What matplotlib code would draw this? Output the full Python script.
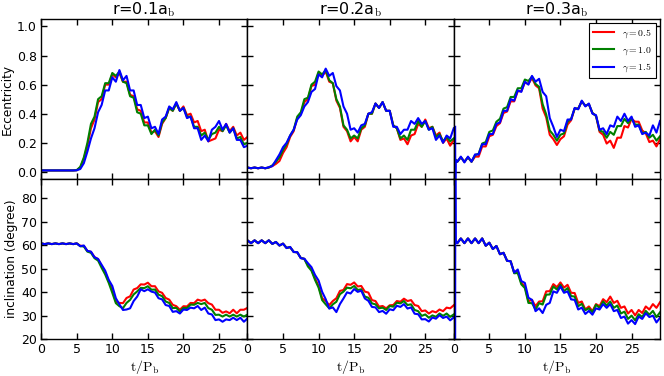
import numpy as np
import matplotlib
matplotlib.use("Agg")
import matplotlib.pyplot as plt

plt.rcParams["mathtext.fontset"] = "cm"
plt.rcParams["xtick.direction"] = "in"
plt.rcParams["ytick.direction"] = "in"
plt.rcParams["xtick.top"] = True
plt.rcParams["ytick.right"] = True

# time grid, t/P_b, every half binary period
t = np.arange(59) * 0.5
# panel 3 starts with a short spike right after t=0
t3 = np.concatenate([[0.2, 0.22, 0.26], t[1:]])

radii = ["0.1", "0.2", "0.3"]
gammas = ["0.5", "1.0", "1.5"]
colors = ["r", "g", "b"]

# eccentricity, r=0.1 a_b
e1_g05 = [0.01] * 10 + [0.012, 0.03, 0.09, 0.18, 0.30, 0.36, 0.48, 0.50, 0.60, 0.60,
                        0.67, 0.65, 0.68, 0.62, 0.62, 0.53, 0.52, 0.43, 0.42, 0.34,
                        0.34, 0.27, 0.28, 0.24, 0.33, 0.37, 0.44, 0.42, 0.47, 0.42,
                        0.45, 0.39, 0.40, 0.34, 0.35, 0.28, 0.29, 0.21, 0.22, 0.23,
                        0.29, 0.28, 0.33, 0.28, 0.31, 0.25, 0.27, 0.22, 0.24]
e1_g10 = [0.01] * 10 + [0.012, 0.035, 0.10, 0.20, 0.33, 0.38, 0.50, 0.52, 0.61, 0.61,
                        0.68, 0.66, 0.69, 0.62, 0.61, 0.52, 0.51, 0.41, 0.40, 0.32,
                        0.32, 0.26, 0.29, 0.25, 0.34, 0.37, 0.44, 0.42, 0.47, 0.42,
                        0.44, 0.38, 0.38, 0.31, 0.31, 0.25, 0.27, 0.22, 0.26, 0.27,
                        0.31, 0.28, 0.32, 0.27, 0.30, 0.23, 0.24, 0.19, 0.20]
e1_g15 = [0.01] * 10 + [0.011, 0.02, 0.06, 0.14, 0.23, 0.30, 0.41, 0.46, 0.56, 0.56,
                        0.65, 0.62, 0.70, 0.63, 0.66, 0.56, 0.56, 0.46, 0.46, 0.37,
                        0.38, 0.30, 0.31, 0.26, 0.36, 0.38, 0.45, 0.43, 0.48, 0.42,
                        0.44, 0.37, 0.38, 0.30, 0.30, 0.22, 0.25, 0.21, 0.29, 0.31,
                        0.35, 0.29, 0.33, 0.27, 0.30, 0.22, 0.22, 0.17, 0.18]

# eccentricity, r=0.2 a_b
e2_g05 = [0.03, 0.025, 0.03, 0.025, 0.03, 0.025, 0.03, 0.04, 0.055, 0.075,
          0.13, 0.17, 0.24, 0.28, 0.37, 0.40, 0.48, 0.50, 0.59, 0.60,
          0.68, 0.66, 0.69, 0.62, 0.61, 0.49, 0.44, 0.31, 0.28, 0.21,
          0.24, 0.21, 0.29, 0.31, 0.40, 0.40, 0.47, 0.44, 0.48, 0.42,
          0.42, 0.32, 0.30, 0.22, 0.23, 0.19, 0.25, 0.26, 0.33, 0.31,
          0.36, 0.30, 0.31, 0.25, 0.27, 0.20, 0.23, 0.18, 0.22]
e2_g10 = [0.03, 0.025, 0.03, 0.025, 0.03, 0.025, 0.03, 0.045, 0.07, 0.10,
          0.15, 0.19, 0.25, 0.29, 0.38, 0.41, 0.50, 0.51, 0.60, 0.62,
          0.69, 0.67, 0.70, 0.63, 0.61, 0.50, 0.45, 0.32, 0.29, 0.23,
          0.25, 0.23, 0.30, 0.32, 0.40, 0.40, 0.47, 0.44, 0.48, 0.42,
          0.42, 0.32, 0.30, 0.23, 0.25, 0.22, 0.29, 0.29, 0.35, 0.31,
          0.35, 0.29, 0.31, 0.24, 0.26, 0.21, 0.24, 0.21, 0.23]
e2_g15 = [0.03, 0.025, 0.03, 0.025, 0.03, 0.025, 0.032, 0.04, 0.08, 0.12,
          0.17, 0.20, 0.25, 0.29, 0.36, 0.39, 0.45, 0.48, 0.55, 0.57,
          0.67, 0.65, 0.71, 0.66, 0.68, 0.59, 0.56, 0.45, 0.40, 0.29,
          0.30, 0.27, 0.32, 0.33, 0.40, 0.41, 0.47, 0.44, 0.48, 0.42,
          0.42, 0.31, 0.31, 0.26, 0.29, 0.29, 0.35, 0.33, 0.37, 0.33,
          0.35, 0.29, 0.30, 0.22, 0.25, 0.20, 0.25, 0.23, 0.30]

# eccentricity, r=0.3 a_b (61 points, on t3)
e3_g05 = [0.08, 0.08, 0.08,
          0.07, 0.10, 0.07, 0.10, 0.07, 0.105, 0.105, 0.175, 0.175, 0.245,
          0.255, 0.315, 0.335, 0.405, 0.415, 0.485, 0.485, 0.555, 0.555, 0.615,
          0.605, 0.645, 0.595, 0.575, 0.435, 0.375, 0.255, 0.225, 0.185, 0.225,
          0.245, 0.325, 0.355, 0.435, 0.435, 0.485, 0.455, 0.465, 0.405, 0.385,
          0.275, 0.255, 0.195, 0.215, 0.165, 0.235, 0.235, 0.315, 0.305, 0.365,
          0.345, 0.345, 0.285, 0.265, 0.205, 0.215, 0.175, 0.225]
e3_g10 = [0.085, 0.085, 0.085,
          0.07, 0.10, 0.07, 0.10, 0.07, 0.115, 0.125, 0.195, 0.205, 0.275,
          0.285, 0.345, 0.365, 0.435, 0.445, 0.515, 0.515, 0.575, 0.575, 0.635,
          0.625, 0.655, 0.605, 0.585, 0.465, 0.395, 0.285, 0.255, 0.215, 0.255,
          0.265, 0.345, 0.365, 0.435, 0.435, 0.485, 0.455, 0.465, 0.405, 0.385,
          0.285, 0.275, 0.235, 0.275, 0.255, 0.315, 0.315, 0.365, 0.335, 0.365,
          0.325, 0.325, 0.265, 0.275, 0.235, 0.255, 0.215, 0.245]
e3_g15 = [0.31, -0.10, 0.08,
          0.07, 0.105, 0.065, 0.105, 0.07, 0.12, 0.12, 0.19, 0.19, 0.26,
          0.26, 0.33, 0.34, 0.42, 0.42, 0.50, 0.49, 0.56, 0.55, 0.62,
          0.60, 0.66, 0.62, 0.64, 0.55, 0.52, 0.37, 0.31, 0.24, 0.29,
          0.28, 0.36, 0.36, 0.44, 0.43, 0.49, 0.45, 0.47, 0.40, 0.39,
          0.29, 0.30, 0.26, 0.32, 0.31, 0.38, 0.35, 0.40, 0.35, 0.38,
          0.31, 0.32, 0.26, 0.27, 0.25, 0.32, 0.27, 0.35]

# inclination (degree), r=0.1 a_b
flat1 = [60.7, 60.4, 60.7, 60.4, 60.7, 60.4, 60.7, 60.4, 60.7, 60.4, 60.7]
i1_g05 = flat1 + [59.7, 59.6, 57.5, 57.1, 54.9, 54.0, 51.1, 48.3, 44.6,
                  41.1, 36.0, 35.4, 35.3, 37.5, 38.2, 41.1, 41.7, 43.3, 43.2,
                  44.0, 42.5, 42.5, 40.3, 39.7, 37.5, 36.8, 34.6, 34.0, 32.5,
                  34.0, 33.9, 35.4, 35.3, 36.8, 36.3, 36.8, 35.3, 34.7, 32.5,
                  32.5, 31.2, 31.8, 31.0, 32.5, 31.0, 32.5, 32.5, 33.3]
i1_g10 = flat1 + [59.5, 59.4, 57.2, 56.7, 54.4, 53.4, 50.3, 47.5, 43.9,
                  39.7, 35.3, 34.0, 33.2, 35.4, 36.7, 39.0, 40.3, 41.8, 41.7,
                  42.5, 41.0, 41.1, 38.9, 38.3, 36.0, 35.4, 33.2, 33.3, 31.7,
                  33.3, 33.2, 34.7, 34.6, 35.4, 34.9, 35.4, 33.2, 32.5, 30.3,
                  30.4, 29.6, 30.4, 29.6, 30.4, 29.6, 30.4, 29.6, 30.4]
i1_g15 = flat1 + [59.5, 59.8, 57.5, 57.2, 54.8, 54.1, 51.6, 49.1, 45.2,
                  42.6, 37.4, 34.8, 32.4, 32.6, 33.1, 36.2, 38.1, 41.2, 40.4,
                  41.2, 40.2, 39.8, 37.4, 36.9, 34.5, 34.1, 31.6, 31.9, 30.9,
                  32.6, 32.4, 33.4, 33.1, 34.1, 32.4, 33.4, 30.9, 30.5, 28.1,
                  28.4, 27.4, 28.4, 28.1, 29.1, 28.1, 29.1, 27.4, 28.8]

# inclination (degree), r=0.2 a_b
i2_g05 = [62.0, 60.8, 62.0, 60.8, 62.0, 60.8, 62.0, 60.5, 61.3, 59.8,
          60.6, 58.8, 59.1, 57.1, 56.9, 54.5, 54.1, 51.5, 49.5, 45.9,
          42.6, 37.4, 36.2, 34.5, 36.2, 37.4, 40.5, 40.9, 43.4, 43.1,
          44.1, 42.4, 42.6, 40.2, 39.8, 36.6, 36.2, 33.8, 34.1, 33.1,
          34.4, 34.5, 36.2, 35.9, 37.2, 36.2, 36.6, 34.5, 34.1, 31.9,
          32.2, 30.9, 31.9, 31.4, 32.6, 31.9, 33.4, 33.1, 34.4]
i2_g10 = [62.0, 60.8, 62.0, 60.8, 62.0, 60.8, 62.0, 60.5, 61.3, 59.8,
          60.6, 58.8, 59.1, 57.1, 56.9, 54.5, 54.1, 50.9, 49.1, 45.2,
          41.9, 36.6, 34.8, 33.1, 34.8, 35.9, 39.1, 40.2, 41.9, 41.6,
          42.6, 40.9, 41.2, 38.1, 37.6, 35.2, 34.8, 33.1, 33.4, 32.4,
          34.1, 33.8, 35.5, 35.2, 36.2, 34.5, 34.8, 32.4, 31.9, 29.9,
          30.5, 29.1, 30.1, 29.5, 30.9, 29.9, 30.9, 29.5, 30.5]
i2_g15 = [62.0, 60.8, 62.0, 60.8, 62.0, 60.8, 62.0, 60.5, 61.3, 59.8,
          60.6, 58.7, 59.2, 57.0, 57.0, 54.4, 54.2, 52.3, 50.6, 47.3,
          44.9, 40.1, 37.0, 33.0, 33.5, 31.5, 34.9, 37.3, 39.9, 39.4,
          41.3, 40.1, 40.6, 37.3, 36.3, 33.7, 33.5, 31.5, 32.0, 30.8,
          32.7, 32.3, 34.2, 33.7, 34.9, 33.0, 33.5, 30.8, 30.6, 28.4,
          28.5, 27.5, 29.2, 28.7, 30.2, 29.0, 29.6, 28.0, 29.2]

# inclination (degree), r=0.3 a_b (61 points, on t3)
i3_g05 = [61.8, 61.8, 61.8,
          60.8, 62.8, 60.8, 62.8, 60.8, 62.8, 60.8, 62.8, 59.7, 61.0,
          58.3, 59.6, 56.1, 56.7, 53.3, 53.1, 48.3, 48.9, 44.0, 42.4,
          36.1, 36.7, 34.0, 36.0, 36.1, 40.3, 40.4, 43.4, 42.1, 44.1,
          41.9, 43.1, 39.7, 39.6, 35.4, 36.0, 32.6, 33.9, 31.9, 34.9,
          34.0, 37.0, 35.7, 38.1, 35.4, 36.3, 33.3, 33.9, 30.9, 32.4,
          30.1, 32.4, 31.1, 33.9, 32.6, 34.9, 33.3, 35.7]
i3_g10 = [61.8, 61.8, 61.8,
          60.8, 62.8, 60.8, 62.8, 60.8, 62.8, 60.8, 62.8, 59.7, 61.0,
          58.3, 59.6, 56.1, 56.7, 53.3, 53.1, 48.0, 48.1, 43.3, 41.7,
          35.4, 35.3, 32.6, 35.3, 34.7, 38.9, 39.0, 42.4, 41.1, 43.1,
          40.4, 41.7, 38.3, 38.1, 34.0, 35.0, 32.3, 33.1, 31.4, 34.6,
          33.3, 36.0, 34.3, 36.0, 33.3, 34.3, 30.9, 31.7, 28.6, 30.0,
          28.0, 30.6, 29.4, 32.0, 30.4, 32.0, 29.4, 31.4]
i3_g15 = [10.0, 95.0, 62.0,
          60.8, 62.8, 60.8, 62.8, 60.8, 62.8, 60.8, 62.8, 59.7, 61.0,
          58.3, 59.6, 56.1, 56.7, 53.3, 53.1, 48.3, 49.6, 44.7, 43.9,
          37.6, 36.7, 31.9, 33.1, 31.1, 34.6, 35.4, 40.3, 39.7, 42.4,
          39.7, 40.3, 36.9, 36.7, 32.6, 33.4, 30.7, 32.0, 30.4, 33.1,
          32.6, 34.9, 33.3, 34.9, 31.9, 32.4, 29.0, 29.6, 26.6, 28.1,
          26.4, 29.6, 28.6, 31.0, 29.4, 30.0, 27.1, 29.1]

ecc = [[e1_g05, e1_g10, e1_g15], [e2_g05, e2_g10, e2_g15], [e3_g05, e3_g10, e3_g15]]
inc = [[i1_g05, i1_g10, i1_g15], [i2_g05, i2_g10, i2_g15], [i3_g05, i3_g10, i3_g15]]
times = [t, t, t3]

fig, axes = plt.subplots(2, 3, figsize=(6.64, 3.76), dpi=100)
fig.subplots_adjust(left=0.062, right=0.994, top=0.949, bottom=0.098,
                    wspace=0, hspace=0)

for j in range(3):
    ax_e = axes[0, j]
    ax_i = axes[1, j]
    for k in range(3):
        ax_e.plot(times[j], ecc[j][k], color=colors[k], lw=1.5,
                  label=r"$\gamma=%s$" % gammas[k])
        ax_i.plot(times[j], inc[j][k], color=colors[k], lw=1.5)

    ax_e.set_title(r"r=%sa$_{\rm b}$" % radii[j], fontsize=11.5, pad=3)
    ax_e.set_ylim(-0.05, 1.05)
    ax_e.set_yticks(np.arange(0, 1.01, 0.2))
    ax_i.set_ylim(20, 88)
    ax_i.set_yticks(np.arange(20, 81, 10))
    for ax in (ax_e, ax_i):
        ax.set_xlim(0, 29)
        ax.set_xticks(np.arange(0, 26, 5))
        ax.tick_params(which="major", length=4, width=1, labelsize=9, pad=3)
        for s in ax.spines.values():
            s.set_linewidth(1)
    ax_e.tick_params(labelbottom=False)
    ax_i.set_xlabel(r"$\rm t/P_b$", fontsize=10, labelpad=1)
    if j > 0:
        ax_e.tick_params(labelleft=False)
        ax_i.tick_params(labelleft=False)

axes[0, 0].set_ylabel("Eccentricity", fontsize=8.7, labelpad=2)
axes[1, 0].set_ylabel("inclination (degree)", fontsize=8.7, labelpad=2)

leg = axes[0, 2].legend(loc="upper right", fontsize=7, handlelength=2.2,
                        fancybox=False, framealpha=1, edgecolor="black",
                        borderaxespad=0.4)
leg.get_frame().set_linewidth(0.8)

fig.savefig("out.png", dpi=100)
